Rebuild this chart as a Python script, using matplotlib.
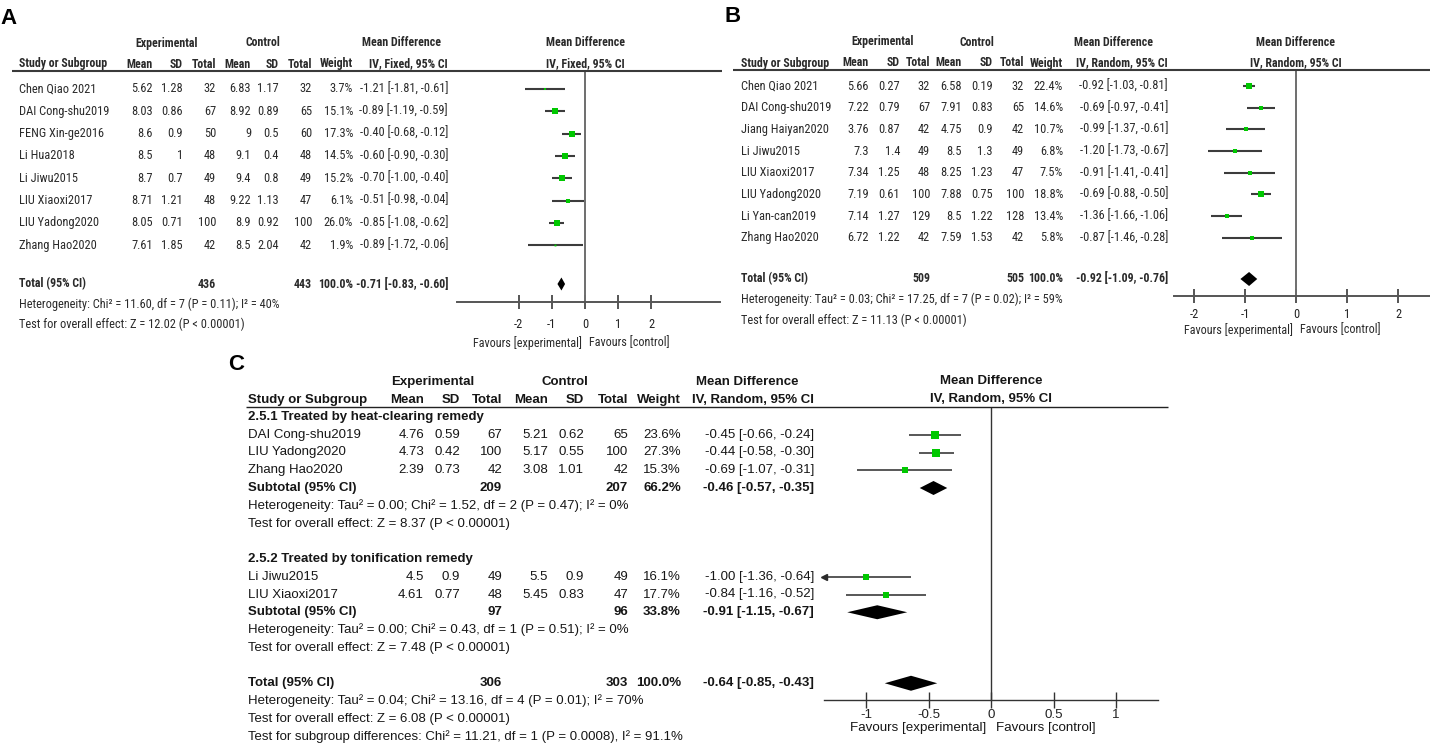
import matplotlib
matplotlib.use('Agg')
import matplotlib.pyplot as plt
from matplotlib.lines import Line2D
from matplotlib import font_manager
import numpy as np

# ------------------------------------------------------------------ data A
A_studies = ["Chen Qiao 2021", "DAI Cong-shu2019", "FENG Xin-ge2016", "Li Hua2018",
             "Li Jiwu2015", "LIU Xiaoxi2017", "LIU Yadong2020", "Zhang Hao2020"]
A_exp_mean = [5.62, 8.03, 8.6, 8.5, 8.7, 8.71, 8.05, 7.61]
A_exp_sd = [1.28, 0.86, 0.9, 1, 0.7, 1.21, 0.71, 1.85]
A_exp_n = [32, 67, 50, 48, 49, 48, 100, 42]
A_ctl_mean = [6.83, 8.92, 9, 9.1, 9.4, 9.22, 8.9, 8.5]
A_ctl_sd = [1.17, 0.89, 0.5, 0.4, 0.8, 1.13, 0.92, 2.04]
A_ctl_n = [32, 65, 60, 48, 49, 47, 100, 42]
A_weight = [3.7, 15.1, 17.3, 14.5, 15.2, 6.1, 26.0, 1.9]
A_md = [-1.21, -0.89, -0.40, -0.60, -0.70, -0.51, -0.85, -0.89]
A_lo = [-1.81, -1.19, -0.68, -0.90, -1.00, -0.98, -1.08, -1.72]
A_hi = [-0.61, -0.59, -0.12, -0.30, -0.40, -0.04, -0.62, -0.06]
A_total = [436, 443, 100.0, -0.71, -0.83, -0.60]
A_het = "Heterogeneity: Chi² = 11.60, df = 7 (P = 0.11); I² = 40%"
A_test = "Test for overall effect: Z = 12.02 (P < 0.00001)"
A_method = "IV, Fixed, 95% CI"
A_ticks = [-2, -1, 0, 1, 2]

# ------------------------------------------------------------------ data B
B_studies = ["Chen Qiao 2021", "DAI Cong-shu2019", "Jiang Haiyan2020", "Li Jiwu2015",
             "LIU Xiaoxi2017", "LIU Yadong2020", "Li Yan-can2019", "Zhang Hao2020"]
B_exp_mean = [5.66, 7.22, 3.76, 7.3, 7.34, 7.19, 7.14, 6.72]
B_exp_sd = [0.27, 0.79, 0.87, 1.4, 1.25, 0.61, 1.27, 1.22]
B_exp_n = [32, 67, 42, 49, 48, 100, 129, 42]
B_ctl_mean = [6.58, 7.91, 4.75, 8.5, 8.25, 7.88, 8.5, 7.59]
B_ctl_sd = [0.19, 0.83, 0.9, 1.3, 1.23, 0.75, 1.22, 1.53]
B_ctl_n = [32, 65, 42, 49, 47, 100, 128, 42]
B_weight = [22.4, 14.6, 10.7, 6.8, 7.5, 18.8, 13.4, 5.8]
B_md = [-0.92, -0.69, -0.99, -1.20, -0.91, -0.69, -1.36, -0.87]
B_lo = [-1.03, -0.97, -1.37, -1.73, -1.41, -0.88, -1.66, -1.46]
B_hi = [-0.81, -0.41, -0.61, -0.67, -0.41, -0.50, -1.06, -0.28]
B_total = [509, 505, 100.0, -0.92, -1.09, -0.76]
B_het = "Heterogeneity: Tau² = 0.03; Chi² = 17.25, df = 7 (P = 0.02); I² = 59%"
B_test = "Test for overall effect: Z = 11.13 (P < 0.00001)"
B_method = "IV, Random, 95% CI"
B_ticks = [-2, -1, 0, 1, 2]

# ------------------------------------------------------------------ data C
C1_title = "2.5.1 Treated by heat-clearing remedy"
C1_studies = ["DAI Cong-shu2019", "LIU Yadong2020", "Zhang Hao2020"]
C1_exp_mean = [4.76, 4.73, 2.39]
C1_exp_sd = [0.59, 0.42, 0.73]
C1_exp_n = [67, 100, 42]
C1_ctl_mean = [5.21, 5.17, 3.08]
C1_ctl_sd = [0.62, 0.55, 1.01]
C1_ctl_n = [65, 100, 42]
C1_weight = [23.6, 27.3, 15.3]
C1_md = [-0.45, -0.44, -0.69]
C1_lo = [-0.66, -0.58, -1.07]
C1_hi = [-0.24, -0.30, -0.31]
C1_sub = [209, 207, 66.2, -0.46, -0.57, -0.35]
C1_het = "Heterogeneity: Tau² = 0.00; Chi² = 1.52, df = 2 (P = 0.47); I² = 0%"
C1_test = "Test for overall effect: Z = 8.37 (P < 0.00001)"

C2_title = "2.5.2 Treated by tonification remedy"
C2_studies = ["Li Jiwu2015", "LIU Xiaoxi2017"]
C2_exp_mean = [4.5, 4.61]
C2_exp_sd = [0.9, 0.77]
C2_exp_n = [49, 48]
C2_ctl_mean = [5.5, 5.45]
C2_ctl_sd = [0.9, 0.83]
C2_ctl_n = [49, 47]
C2_weight = [16.1, 17.7]
C2_md = [-1.00, -0.84]
C2_lo = [-1.36, -1.16]
C2_hi = [-0.64, -0.52]
C2_sub = [97, 96, 33.8, -0.91, -1.15, -0.67]
C2_het = "Heterogeneity: Tau² = 0.00; Chi² = 0.43, df = 1 (P = 0.51); I² = 0%"
C2_test = "Test for overall effect: Z = 7.48 (P < 0.00001)"

C_total = [306, 303, 100.0, -0.64, -0.85, -0.43]
C_het = "Heterogeneity: Tau² = 0.04; Chi² = 13.16, df = 4 (P = 0.01); I² = 70%"
C_test = "Test for overall effect: Z = 6.08 (P < 0.00001)"
C_subgroup = "Test for subgroup differences: Chi² = 11.21, df = 1 (P = 0.0008), I² = 91.1%"
C_method = "IV, Random, 95% CI"
C_ticks = [-1, -0.5, 0, 0.5, 1]

# ------------------------------------------------------------------ setup
W, H = 1430, 744
fig = plt.figure(figsize=(W / 100, H / 100), dpi=100)
fig.patch.set_facecolor('white')


def _w(v):
    if isinstance(v, (int, float)):
        return int(v)
    return int(font_manager.weight_dict.get(str(v).lower(), 400))


_ents = font_manager.fontManager.ttflist
_prefs = [('Liberation Sans Narrow', 9.3, 9.0), ('Arial Narrow', 9.3, 9.0),
          ('Roboto Condensed', 8.9, 8.6), ('PT Sans Narrow', 9.6, 9.3),
          ('Archivo Narrow', 9.0, 8.7), ('IBM Plex Sans Condensed', 8.6, 8.3)]
NARROW, NS, NB = 'Liberation Sans', 7.7, 7.5
for _n, _s, _b in _prefs:
    _ws = {_w(f.weight) for f in _ents if f.name == _n and f.style == 'normal'}
    if _ws and min(_ws) <= 400 and max(_ws) >= 700:
        NARROW, NS, NB = _n, _s, _b
        break
REG = 'Liberation Sans'
GREEN = '#00c800'


def fx(px):
    return px / W


def fy(py):
    return 1 - py / H


def txt(x, y, s, ha='left', size=9.3, bold=False, family=REG, color='#222222'):
    fig.text(fx(x), fy(y), s, ha=ha, va='center', fontsize=size,
             fontweight='bold' if bold else 'normal', family=[family, 'DejaVu Sans'], color=color)


def hline(x0, x1, y, color, lw):
    fig.add_artist(Line2D([fx(x0), fx(x1)], [fy(y), fy(y)], transform=fig.transFigure,
                          color=color, lw=lw, solid_capstyle='butt'))


def g(v):
    return f'{v:g}'


def ci(m, l, h):
    return f'{m:.2f} [{l:.2f}, {h:.2f}]'


def forest_axes(xl, xr, yt, yb, zero_px, ppu, ticks, family, size, color, lw, zcolor, zlw, tlen, pad):
    ax = fig.add_axes([fx(xl), fy(yb), (xr - xl) / W, (yb - yt) / H])
    ax.set_xlim((xl - zero_px) / ppu, (xr - zero_px) / ppu)
    ax.set_ylim(yb, yt)
    for s in ['top', 'left', 'right']:
        ax.spines[s].set_visible(False)
    ax.spines['bottom'].set_color(color)
    ax.spines['bottom'].set_linewidth(lw)
    ax.set_yticks([])
    ax.patch.set_alpha(0)
    ax.set_xticks(ticks)
    ax.set_xticklabels([g(t) for t in ticks], family=[family, 'DejaVu Sans'], fontsize=size, color='#222222')
    ax.tick_params(axis='x', direction='inout', length=tlen, width=lw, color=color, pad=pad)
    ax.axvline(0, color=zcolor, lw=zlw)
    return ax


def study_mark(ax, y, m, l, h, w, k, lw, lcolor):
    xmin, xmax = ax.get_xlim()
    l2 = max(l, xmin)
    h2 = min(h, xmax)
    ax.plot([l2, h2], [y, y], color=lcolor, lw=lw, solid_capstyle='butt', zorder=2)
    if l < xmin:
        ax.plot([xmin], [y], marker='<', ms=5, color=lcolor, zorder=3, clip_on=False)
    ax.plot([m], [y], marker='s', ms=k * np.sqrt(w) * 0.72, color=GREEN, mec=GREEN, mew=0, zorder=4)


def diamond(ax, y, m, l, h, hh):
    ax.fill([l, m, h, m], [y, y - hh, y, y + hh], color='black', lw=0, zorder=4)


# ------------------------------------------------------------------ simple panel
def simple_panel(lay, studies, em, esd, en, cm, csd, cn, wt, md, lo, hi, tot, het, test, method, ticks):
    F, S, B, C = NARROW, NS, NB, '#2a2a2a'
    c = lay['cols']
    txt(lay['lab'][0], lay['lab'][1], lay['label'], size=16, bold=True, color='black')
    y1, y2 = lay['hy']
    txt(lay['expc'], y1, 'Experimental', 'center', B, True, F, C)
    txt(lay['ctlc'], y1, 'Control', 'center', B, True, F, C)
    txt(lay['mdc'], y1, 'Mean Difference', 'center', B, True, F, C)
    txt(lay['zero'], y1, 'Mean Difference', 'center', B, True, F, C)
    heads = ['Mean', 'SD', 'Total', 'Mean', 'SD', 'Total', 'Weight', method]
    txt(c[0], y2, 'Study or Subgroup', 'left', B, True, F, C)
    for xc, hd in zip(c[1:], heads):
        txt(xc, y2, hd, 'right', B, True, F, C)
    txt(lay['zero'], y2, method, 'center', B, True, F, C)
    hline(lay['line'][0], lay['line'][1], lay['line'][2], '#3a3a3a', 1.5)

    ax = forest_axes(lay['ax'][0], lay['ax'][1], lay['line'][2], lay['ax'][2], lay['zero'], lay['ppu'],
                     ticks, F, S, '#555555', 1.4, '#6e6e6e', 1.4, 10, lay['pad'])
    y0, st = lay['rows']
    for i, nm in enumerate(studies):
        y = y0 + i * st
        vals = [g(em[i]), g(esd[i]), str(en[i]), g(cm[i]), g(csd[i]), str(cn[i]),
                f'{wt[i]:.1f}%', ci(md[i], lo[i], hi[i])]
        txt(c[0], y, nm, 'left', S, False, F, C)
        for xc, v in zip(c[1:], vals):
            txt(xc, y, v, 'right', S, False, F, C)
        study_mark(ax, y, md[i], lo[i], hi[i], wt[i], lay['k'], 1.5, '#3c3c3c')
    ty, hy, sy = lay['tot']
    txt(c[0], ty, 'Total (95% CI)', 'left', B, True, F, C)
    txt(c[3], ty, str(tot[0]), 'right', B, True, F, C)
    txt(c[6], ty, str(tot[1]), 'right', B, True, F, C)
    txt(c[7], ty, f'{tot[2]:.1f}%', 'right', B, True, F, C)
    txt(c[8], ty, ci(tot[3], tot[4], tot[5]), 'right', B, True, F, C)
    diamond(ax, ty, tot[3], tot[4], tot[5], lay['dh'])
    txt(c[0], hy, het, 'left', S, False, F, C)
    txt(c[0], sy, test, 'left', S, False, F, C)
    fvy = lay['fav']
    txt(lay['zero'] - 3, fvy, 'Favours [experimental]', 'right', S - 0.2, False, F, C)
    txt(lay['zero'] + 4, fvy, 'Favours [control]', 'left', S - 0.2, False, F, C)


layA = dict(label='A', lab=(0, 18), hy=(43, 64), expc=167, ctlc=263, mdc=402,
            cols=[19, 153, 183, 216, 251, 279, 312, 353, 448],
            line=(12, 722, 71), ax=(457, 720, 302), zero=585, ppu=33.2, pad=6.5,
            rows=(89, 22.3), k=1.35, tot=(284, 304, 324), dh=6.5, fav=343)
layB = dict(label='B', lab=(725, 16), hy=(42, 63), expc=883, ctlc=977, mdc=1113,
            cols=[741, 869, 900, 930, 962, 993, 1024, 1063, 1168],
            line=(733, 1430, 70), ax=(1174, 1430, 296), zero=1296, ppu=51, pad=3.5,
            rows=(86, 21.7), k=1.3, tot=(279, 299, 320), dh=7, fav=330)

simple_panel(layA, A_studies, A_exp_mean, A_exp_sd, A_exp_n, A_ctl_mean, A_ctl_sd, A_ctl_n,
             A_weight, A_md, A_lo, A_hi, A_total, A_het, A_test, A_method, A_ticks)
simple_panel(layB, B_studies, B_exp_mean, B_exp_sd, B_exp_n, B_ctl_mean, B_ctl_sd, B_ctl_n,
             B_weight, B_md, B_lo, B_hi, B_total, B_het, B_test, B_method, B_ticks)

# ------------------------------------------------------------------ panel C
F, S, CC = REG, 9.5, '#161616'
cols = [248, 424, 460, 502, 548, 584, 628, 681, 814]
zeroC = 991
txt(228, 365, 'C', size=16, bold=True, color='black')
txt(433, 382, 'Experimental', 'center', S, True, F, CC)
txt(565, 382, 'Control', 'center', S, True, F, CC)
txt(747, 382, 'Mean Difference', 'center', S, True, F, CC)
txt(zeroC, 381, 'Mean Difference', 'center', S, True, F, CC)
txt(cols[0], 400, 'Study or Subgroup', 'left', S, True, F, CC)
for xc, hd in zip(cols[1:], ['Mean', 'SD', 'Total', 'Mean', 'SD', 'Total', 'Weight', C_method]):
    txt(xc, 400, hd, 'right', S, True, F, CC)
txt(zeroC, 399, C_method, 'center', S, True, F, CC)
hline(246, 1168, 407, '#222222', 1.0)

axC = forest_axes(824, 1158, 407, 700, zeroC, 125, C_ticks, F, 9.6, '#333333', 1.0, '#333333', 1.0, 12, 0.3)


def yC(r):
    return 417 + r * 17.75


groups = [
    (C1_title, C1_studies, C1_exp_mean, C1_exp_sd, C1_exp_n, C1_ctl_mean, C1_ctl_sd, C1_ctl_n,
     C1_weight, C1_md, C1_lo, C1_hi, C1_sub, C1_het, C1_test),
    (C2_title, C2_studies, C2_exp_mean, C2_exp_sd, C2_exp_n, C2_ctl_mean, C2_ctl_sd, C2_ctl_n,
     C2_weight, C2_md, C2_lo, C2_hi, C2_sub, C2_het, C2_test),
]

r = 0
for (title, st, em, esd, en, cm, csd, cn, wt, md, lo, hi, sub, het, test) in groups:
    txt(cols[0], yC(r), title, 'left', S, True, F, CC)
    r += 1
    for i, nm in enumerate(st):
        y = yC(r)
        vals = [g(em[i]), g(esd[i]), str(en[i]), g(cm[i]), g(csd[i]), str(cn[i]),
                f'{wt[i]:.1f}%', ci(md[i], lo[i], hi[i])]
        txt(cols[0], y, nm, 'left', S, False, F, CC)
        for xc, v in zip(cols[1:], vals):
            txt(xc, y, v, 'right', S, False, F, CC)
        study_mark(axC, y, md[i], lo[i], hi[i], wt[i], 1.45, 1.1, '#2a2a2a')
        r += 1
    y = yC(r)
    txt(cols[0], y, 'Subtotal (95% CI)', 'left', S, True, F, CC)
    txt(cols[3], y, str(sub[0]), 'right', S, True, F, CC)
    txt(cols[6], y, str(sub[1]), 'right', S, True, F, CC)
    txt(cols[7], y, f'{sub[2]:.1f}%', 'right', S, True, F, CC)
    txt(cols[8], y, ci(sub[3], sub[4], sub[5]), 'right', S, True, F, CC)
    diamond(axC, y, sub[3], sub[4], sub[5], 7)
    r += 1
    txt(cols[0], yC(r), het, 'left', S, False, F, CC)
    r += 1
    txt(cols[0], yC(r), test, 'left', S, False, F, CC)
    r += 2

y = yC(r)
txt(cols[0], y, 'Total (95% CI)', 'left', S, True, F, CC)
txt(cols[3], y, str(C_total[0]), 'right', S, True, F, CC)
txt(cols[6], y, str(C_total[1]), 'right', S, True, F, CC)
txt(cols[7], y, f'{C_total[2]:.1f}%', 'right', S, True, F, CC)
txt(cols[8], y, ci(C_total[3], C_total[4], C_total[5]), 'right', S, True, F, CC)
diamond(axC, y, C_total[3], C_total[4], C_total[5], 7.5)
txt(cols[0], yC(r + 1), C_het, 'left', S, False, F, CC)
txt(cols[0], yC(r + 2), C_test, 'left', S, False, F, CC)
txt(cols[0], yC(r + 3), C_subgroup, 'left', S, False, F, CC)

txt(zeroC - 5, 728, 'Favours [experimental]', 'right', 9.6, False, F, CC)
txt(zeroC + 5, 728, 'Favours [control]', 'left', 9.6, False, F, CC)

fig.savefig('out.png', dpi=100, facecolor='white')
